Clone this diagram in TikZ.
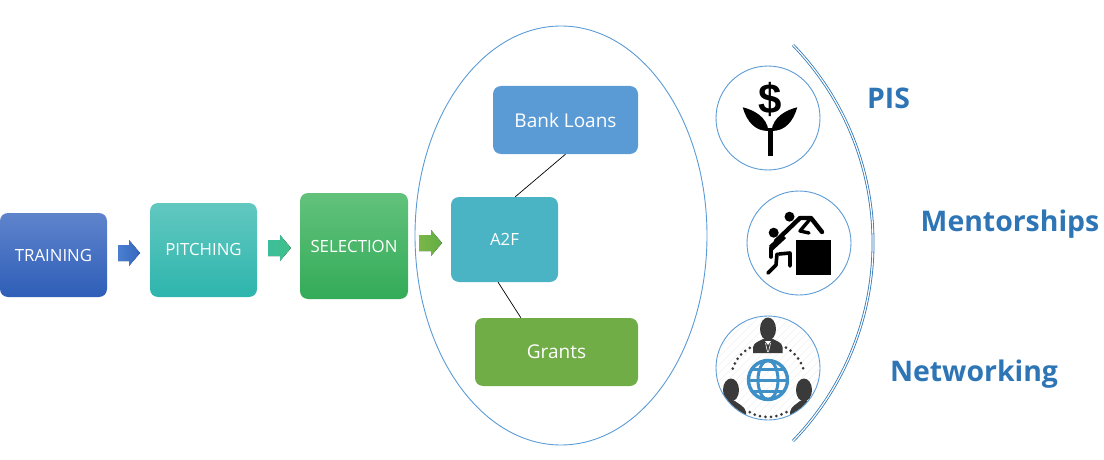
\documentclass[tikz,border=0pt]{standalone}
\usepackage{fontspec}
\setmainfont{Open Sans}
\newfontfamily\iconfont{Liberation Sans}
\usetikzlibrary{shapes.geometric,calc}
\definecolor{lineblue}{HTML}{5B9BD5}
\definecolor{headblue}{HTML}{2E75B6}
\definecolor{globeblue}{HTML}{3F90C6}
\definecolor{persongray}{HTML}{3A3A3A}
\definecolor{tt}{HTML}{5F84CC}
\definecolor{tb}{HTML}{2E5EB8}
\definecolor{pt}{HTML}{62C8C0}
\definecolor{pb}{HTML}{2DB5AD}
\definecolor{st}{HTML}{62C27C}
\definecolor{sb}{HTML}{33AB58}
\definecolor{a2fc}{HTML}{4AB3C4}
\definecolor{grantc}{HTML}{70AD47}
\definecolor{aonel}{HTML}{4A7FD0}
\definecolor{aoner}{HTML}{3566BE}
\definecolor{atwol}{HTML}{3DBE9A}
\definecolor{atwor}{HTML}{3FC088}
\definecolor{athreel}{HTML}{7AB648}
\definecolor{athreer}{HTML}{62AE45}
\tikzset{
  stage/.style={rectangle,rounded corners=8pt,inner sep=0pt,text=white,font=\fontsize{16.8}{20}\selectfont,draw=none},
  bigstage/.style={stage,font=\fontsize{19}{22}\selectfont},
  hoop/.style={circle,draw=lineblue,line width=0.9pt,minimum size=104pt,inner sep=0pt},
  heading/.style={text=headblue,font=\fontsize{28.4}{32}\selectfont\bfseries,inner sep=0pt},
  link/.style={draw=black,line width=0.7pt},
  limb/.style={line width=4.4pt,line cap=round,line join=round,draw=black}
}
\begin{document}
\begin{tikzpicture}[x=1pt,y=-1pt]
\useasboundingbox (0,0) rectangle (1104,460);
% stages
\node[stage,minimum width=107pt,minimum height=84pt,top color=tt,bottom color=tb] (training) at (53.5,255) {TRAINING};
\node[stage,minimum width=107pt,minimum height=94pt,top color=pt,bottom color=pb] (pitching) at (203.5,250) {\raisebox{1pt}{PITCHING}};
\node[stage,minimum width=108pt,minimum height=106pt,top color=st,bottom color=sb] (selection) at (354,246) {SELECTION};
% big ellipse
\node[ellipse,draw=lineblue,line width=0.9pt,minimum width=292pt,minimum height=419pt,inner sep=0pt] (oval) at (561,235.5) {};
\node[stage,minimum width=107pt,minimum height=85pt,fill=a2fc] (a2f) at (504.5,239.5) {\raisebox{-1pt}{A2F}};
\node[bigstage,minimum width=145pt,minimum height=68pt,fill=lineblue] (bank) at (565.5,120) {\raisebox{-1pt}{Bank Loans}};
\node[bigstage,minimum width=163pt,minimum height=68pt,fill=grantc] (grants) at (556.5,352) {\raisebox{-2pt}{Grants}};
\draw[link] ($(a2f.north west)!0.6!(a2f.north east)$) -- (bank.south);
\draw[link] ($(a2f.south west)!0.44!(a2f.south east)$) -- ($(grants.north west)!0.282!(grants.north east)$);
% block arrows
\fill[left color=aonel,right color=aoner] (118,245) -- (129,245) -- (129,240) -- (140,253) -- (129,266) -- (129,261) -- (118,261) -- cycle;
\fill[left color=atwol,right color=atwor] (268,240) -- (280,240) -- (280,235) -- (291,248) -- (280,261) -- (280,256) -- (268,256) -- cycle;
\fill[left color=athreel,right color=athreer] (419,235) -- (431,235) -- (431,230) -- (442,243) -- (431,256) -- (431,251) -- (419,251) -- cycle;
% double arc
\draw[draw=headblue,line width=0.8pt,double=white,double distance=1.2pt] (793,45) .. controls (899.7,155.4) and (899.7,330.6) .. (793,441);
% icon circles
\node[hoop] (c1) at (768,118) {};
\node[hoop] (c2) at (799,243) {};
\node[hoop] (c3) at (768,368) {};
% plant icon
\node[inner sep=0pt,text=black,font=\iconfont\fontsize{42}{44}\selectfont\bfseries] (dollar) at (770,99) {\$};
\fill[black] (768,128) rectangle (772.5,156);
\fill[black] (742.7,107.3) .. controls (754,110) and (767,117) .. (768.5,131) .. controls (755,131) and (747,122) .. (742.7,107.3) -- cycle;
\fill[black] (797.3,107.3) .. controls (786,110) and (773,117) .. (771.5,131) .. controls (785,131) and (793,122) .. (797.3,107.3) -- cycle;
% mentor icon
\fill[black] (796,239.5) rectangle (831,275);
\fill[black] (789.5,216.7) circle (5);
\fill[black] (773.7,232.7) circle (5);
\draw[limb] (776,241) -- (800,218) -- (811,218) -- (822,232);
\draw[limb,line width=3.4pt] (811,218) -- (800,231) -- (809,233);
\draw[limb,line width=6pt,line cap=butt] (771,248) -- (784,236);
\draw[limb,line width=3.6pt] (771,248) -- (771,257);
\draw[limb,line width=3.6pt] (779,254) -- (790,253) -- (790,266);
\draw[limb,line width=3.6pt] (777,254) -- (776,265) -- (768,273);
% networking icon
\begin{scope}
\clip (768,368) circle (51.5);
\foreach \k in {-14,...,14} {\draw[black!6,line width=0.4pt] (700+\k*8,440) -- (840+\k*8,300);}
\fill[persongray] (768,329) ellipse (8 and 11.5);
\fill[persongray] (753,353) -- (753,347) .. controls (754,342) and (760,341) .. (763,339) -- (773,339) .. controls (776,341) and (782,342) .. (782.5,347) -- (782.5,353) -- cycle;
\fill[white] (765,341) -- (771,341) -- (768,345) -- cycle;
\draw[white,line width=0.6pt] (765.5,343) -- (767.5,352);
\draw[white,line width=0.6pt] (770.5,343) -- (768.5,352);
\fill[persongray] (731,390) ellipse (8 and 11.5);
\fill[persongray] (716,425) -- (716,410) .. controls (718,405) and (724,404) .. (727,401) -- (735,401) .. controls (738,404) and (745,406) .. (746,412) -- (746,425) -- cycle;
\fill[persongray] (804,390) ellipse (8 and 11.5);
\fill[persongray] (790,425) -- (790,412) .. controls (791,406) and (797,404) .. (800,401) -- (808,401) .. controls (811,404) and (818,405) .. (820,410) -- (820,425) -- cycle;
\end{scope}
\foreach \a in {60,68.5,...,121} {\fill[persongray] (768,380) ++ (\a:37) circle (1.5);}
\foreach \a in {198,206.5,...,241} {\fill[persongray] (768,380) ++ (\a:37) circle (1.5);}
\foreach \a in {299,307.5,...,343} {\fill[persongray] (768,380) ++ (\a:37) circle (1.5);}
\draw[globeblue,line width=3.4pt] (768,380) circle (19.5);
\draw[globeblue,line width=3pt] (768,380) ellipse (10 and 19.5);
\draw[globeblue,line width=3pt] (748.5,380) -- (787.5,380);
\draw[globeblue,line width=3pt] (752,369) -- (784,369);
\draw[globeblue,line width=3pt] (752,391) -- (784,391);
% headings
\node[heading] (pis) at (888.5,98) {PIS};
\node[heading] (mentor) at (1010,224) {Mentorships};
\node[heading] (net) at (974,374) {Networking};
\end{tikzpicture}
\end{document}
